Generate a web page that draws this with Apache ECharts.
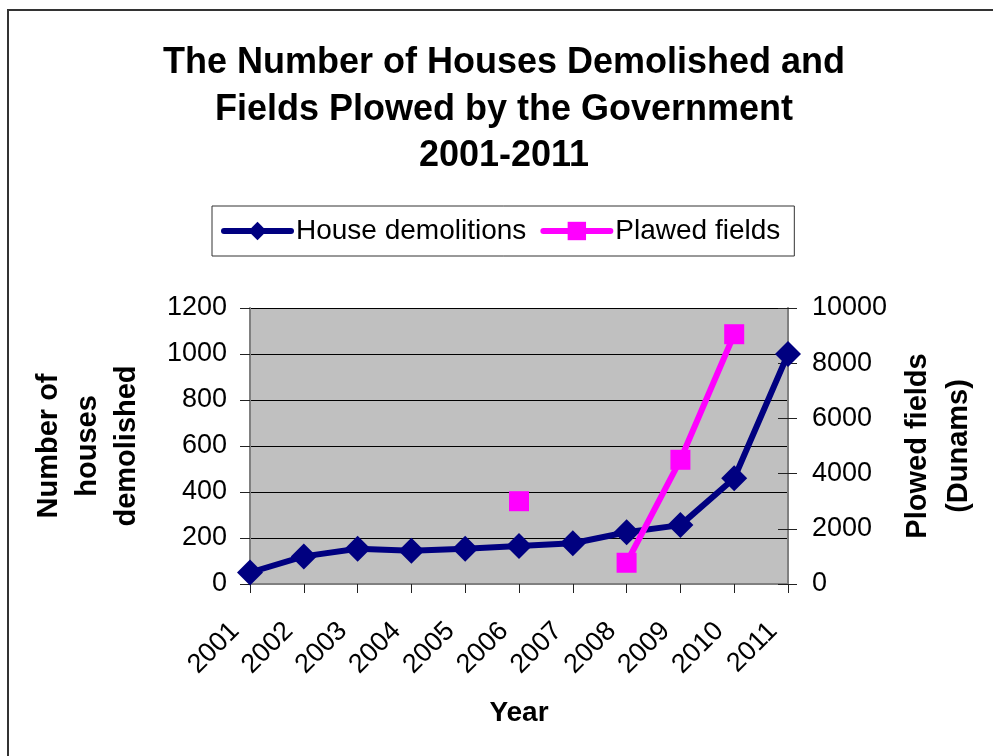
<!DOCTYPE html>
<html>
<head>
<meta charset="utf-8">
<script src="https://cdn.jsdelivr.net/npm/echarts@6/dist/echarts.min.js"></script>
<style>
html,body{margin:0;padding:0;background:#fff;}
#chart{width:993px;height:756px;}
</style>
</head>
<body>
<div id="chart"></div>
<script>
const years = ['2001','2002','2003','2004','2005','2006','2007','2008','2009','2010','2011'];
const houseDemolitions = [50, 120, 153, 145, 153, 165, 177, 225, 256, 460, 1000];
const plowedFields = [null, null, null, null, null, 3000, null, 770, 4500, 9050, null];
const leftTicks = {min: 0, max: 1200, interval: 200};
const rightTicks = {min: 0, max: 10000, interval: 2000};

const FONT = '"Liberation Sans", Arial, sans-serif';
const plain = function (v) { return String(v); };
const chart = echarts.init(document.getElementById('chart'));

chart.setOption({
  backgroundColor: '#ffffff',
  animation: false,
  textStyle: {fontFamily: FONT, color: '#000'},
  graphic: [{
    type: 'rect',
    shape: {x: 8, y: 10, width: 1000, height: 800},
    style: {fill: 'none', stroke: '#333', lineWidth: 2},
    silent: true
  }],
  title: {
    text: 'The Number of Houses Demolished and\nFields Plowed by the Government\n2001-2011',
    left: 499,
    top: 35,
    textAlign: 'center',
    textStyle: {fontFamily: FONT, fontSize: 36, fontWeight: 'bold', color: '#000', lineHeight: 46.5}
  },
  legend: {
    left: 212,
    top: 206,
    padding: [11, 14, 11, 9],
    itemGap: 14,
    itemWidth: 67,
    itemHeight: 23,
    borderColor: '#333',
    borderWidth: 1,
    backgroundColor: '#fff',
    textStyle: {fontFamily: FONT, fontSize: 28, color: '#000'},
    lineStyle: {width: 6, cap: 'round'},
    data: ['House demolitions', 'Plawed fields']
  },
  grid: {
    left: 250, top: 308, width: 538, height: 276,
    show: true, backgroundColor: '#C0C0C0', borderWidth: 0,
    containLabel: false
  },
  xAxis: {
    type: 'category',
    data: years,
    boundaryGap: false,
    name: 'Year',
    nameLocation: 'middle',
    nameGap: 115,
    nameTextStyle: {fontFamily: FONT, fontSize: 28, fontWeight: 'bold', color: '#000'},
    axisLine: {lineStyle: {color: '#808080', width: 2}},
    axisTick: {show: true, inside: false, length: 9, alignWithLabel: true, lineStyle: {color: '#222', width: 1}},
    axisLabel: {rotate: 45, margin: 28, padding: [0, 21, 0, 0], fontSize: 27, color: '#000', fontFamily: FONT, interval: 0},
    splitLine: {show: false}
  },
  yAxis: [{
    type: 'value',
    position: 'left',
    min: leftTicks.min, max: leftTicks.max, interval: leftTicks.interval,
    name: 'Number of\nhouses\ndemolished',
    nameLocation: 'middle',
    nameRotate: 90,
    nameGap: 104,
    nameTextStyle: {fontFamily: FONT, fontSize: 29, fontWeight: 'bold', color: '#000', lineHeight: 39},
    axisLine: {show: true, lineStyle: {color: '#808080', width: 2}},
    axisTick: {show: true, inside: false, length: 10, lineStyle: {color: '#222', width: 1}},
    axisLabel: {margin: 23, fontSize: 27, color: '#000', fontFamily: FONT, formatter: plain},
    splitLine: {show: true, lineStyle: {color: '#000', width: 1}}
  }, {
    type: 'value',
    position: 'right',
    min: rightTicks.min, max: rightTicks.max, interval: rightTicks.interval,
    name: 'Plowed fields\n(Dunams)',
    nameLocation: 'middle',
    nameRotate: 90,
    nameGap: 106,
    nameTextStyle: {fontFamily: FONT, fontSize: 29, fontWeight: 'bold', color: '#000', lineHeight: 41},
    axisLine: {show: true, lineStyle: {color: '#808080', width: 2}},
    axisTick: {show: true, inside: false, length: 9, lineStyle: {color: '#222', width: 1}},
    axisLabel: {margin: 24, fontSize: 27, color: '#000', fontFamily: FONT, formatter: plain},
    splitLine: {show: false}
  }, {
    type: 'value',
    position: 'right',
    min: rightTicks.min, max: rightTicks.max, interval: rightTicks.interval,
    axisLine: {show: false},
    axisTick: {show: true, inside: true, length: 10, lineStyle: {color: '#222', width: 1}},
    axisLabel: {show: false},
    splitLine: {show: false}
  }],
  series: [{
    name: 'House demolitions',
    type: 'line',
    yAxisIndex: 0,
    data: houseDemolitions,
    symbol: 'diamond',
    symbolSize: 26,
    color: '#000080',
    lineStyle: {color: '#000080', width: 6},
    itemStyle: {color: '#000080'},
    z: 3
  }, {
    name: 'Plawed fields',
    type: 'line',
    yAxisIndex: 1,
    data: plowedFields,
    connectNulls: false,
    symbol: 'rect',
    symbolSize: 20,
    color: '#FF00FF',
    lineStyle: {color: '#FF00FF', width: 6},
    itemStyle: {color: '#FF00FF'},
    z: 4
  }]
});
</script>
</body>
</html>
